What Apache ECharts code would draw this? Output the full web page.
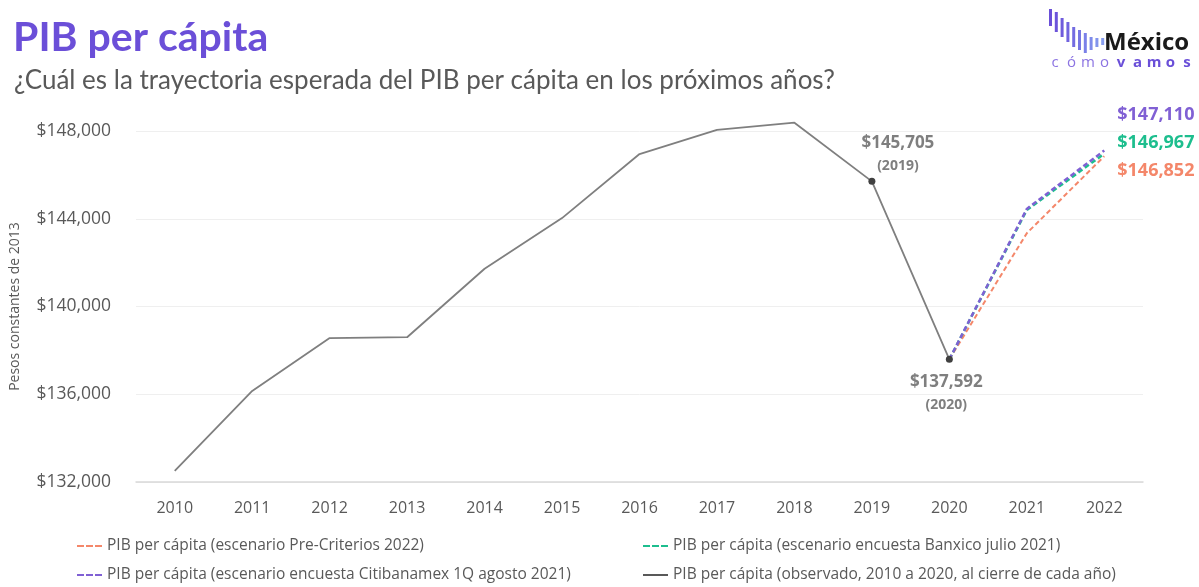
<!DOCTYPE html>
<html>
<head>
<meta charset="utf-8">
<script src="https://cdn.jsdelivr.net/npm/echarts@6/dist/echarts.min.js"></script>
<style>
  html, body { margin: 0; padding: 0; background: #fff; }
  #main { width: 1199px; height: 587px; }
</style>
</head>
<body>
<div id="main"></div>
<script>
// datos
var years = ['2010', '2011', '2012', '2013', '2014', '2015', '2016', '2017', '2018', '2019', '2020', '2021', '2022'];
var observado = [132506, 136150, 138560, 138600, 141720, 144030, 146950, 148050, 148380, 145705, 137592];
var preCriterios = [137592, 143340, 146852];
var banxico = [137592, 144400, 146967];
var citibanamex = [137592, 144450, 147110];
var yTicks = [132000, 136000, 140000, 144000, 148000];

var serieNames = [
  'PIB per cápita (escenario Pre-Criterios 2022)',
  'PIB per cápita (escenario encuesta Banxico julio 2021)',
  'PIB per cápita (escenario encuesta Citibanamex 1Q agosto 2021)',
  'PIB per cápita (observado, 2010 a 2020, al cierre de cada año)'
];
var colors = ['#F4876A', '#1DBE8E', '#8060D4', '#7F7F7F'];

function money(v) {
  return '$' + Math.round(v).toLocaleString('en-US');
}

// las proyecciones empiezan en 2020
function forecast(vals) {
  var pad = [];
  for (var i = 0; i < years.length - vals.length; i++) pad.push('-');
  return pad.concat(vals);
}

function endLabel(color, dy) {
  return {
    show: true, distance: 13, offset: [0, dy],
    formatter: function (p) { return money(p.value); },
    color: color, fontWeight: 'bold', fontSize: 18, fontFamily: 'Open Sans'
  };
}

var obsData = observado.map(function (v, i) {
  if (years[i] === '2019' || years[i] === '2020') {
    var top = years[i] === '2019';
    return {
      value: v, symbol: 'circle', symbolSize: 7,
      itemStyle: { color: '#404040' },
      label: {
        show: true, position: top ? 'top' : 'bottom',
        offset: top ? [26, 4] : [-3, 2],
        formatter: '{a|' + money(v) + '}\n{b|(' + years[i] + ')}',
        rich: {
          a: { fontSize: 17, fontWeight: 'bold', color: '#7F7F7F', fontFamily: 'Open Sans', lineHeight: 24, align: 'center' },
          b: { fontSize: 14, fontWeight: 'bold', color: '#7F7F7F', fontFamily: 'Open Sans', lineHeight: 22, align: 'center' }
        }
      }
    };
  }
  return { value: v, symbol: 'none' };
});

var myChart = echarts.init(document.getElementById('main'));

var dashIcon = 'path://M0,0h7v2h-7z M9,0h7v2h-7z M18,0h7v2h-7z';
var solidIcon = 'path://M0,0h25v2h-25z';
var legendText = { color: '#595959', fontSize: 15.5, fontFamily: 'Open Sans' };
var legends = [
  { left: 77, top: 538 },
  { left: 643, top: 538 },
  { left: 77, top: 567 },
  { left: 643, top: 567 }
].map(function (p, i) {
  return {
    data: [{ name: serieNames[i], icon: i === 3 ? solidIcon : dashIcon, itemStyle: { color: i === 3 ? '#595959' : colors[i] } }],
    left: p.left, top: p.top,
    itemWidth: 25, itemHeight: 2.5, itemGap: 0,
    textStyle: legendText, padding: 0
  };
});

// logo México cómo vamos
var barTops = [9, 12, 18, 22, 27, 30, 33, 37, 38, 38];
var barBottoms = [26, 32, 37, 42, 47, 50, 53, 50, 47, 45];
var barColors = ['#6A4FD8', '#6C54DA', '#6F5BDC', '#7163DF', '#736CE1', '#7675E4', '#7A80E8', '#7E8BEA', '#8294EC', '#879DEE'];
var logo = barTops.map(function (t, i) {
  return {
    type: 'rect',
    shape: { x: 1049 + i * 5.8, y: t, width: 3, height: barBottoms[i] - t },
    style: { fill: barColors[i] }
  };
});
logo.push({
  type: 'text', left: 1104, top: 31,
  style: { text: 'México', font: 'bold 24px "Open Sans"', fill: '#1A1A1A' }
});
var letters = ['c', 'ó', 'm', 'o', 'v', 'a', 'm', 'o', 's'];
letters.forEach(function (ch, i) {
  logo.push({
    type: 'text', x: 1055 + i * 16.5, y: 55,
    style: {
      text: ch, align: 'center',
      font: (i < 4 ? '' : 'bold ') + '15px "Open Sans"',
      fill: i < 4 ? '#8C74E2' : '#6A4FD8'
    }
  });
});

var option = {
  backgroundColor: '#ffffff',
  animation: false,
  color: colors,
  title: [
    {
      text: 'PIB per cápita', left: 8, top: 12,
      textStyle: { color: '#6B4FD8', fontSize: 41, fontWeight: 'bold', fontFamily: 'Lato' }
    },
    {
      text: '¿Cuál es la trayectoria esperada del PIB per cápita en los próximos años?',
      left: 9, top: 63,
      textStyle: { color: '#595959', fontSize: 26, fontWeight: 'normal', fontFamily: 'Lato' }
    }
  ],
  graphic: logo,
  legend: legends,
  grid: { left: 135, right: 56, top: 131, bottom: 105, containLabel: false },
  xAxis: {
    type: 'category', data: years, boundaryGap: true,
    axisLine: { lineStyle: { color: '#D9D9D9', width: 1.5 } },
    axisTick: { show: false },
    axisLabel: { color: '#595959', fontSize: 16, fontFamily: 'Open Sans', margin: 18 }
  },
  yAxis: {
    type: 'value', min: yTicks[0], max: yTicks[yTicks.length - 1], interval: 4000,
    name: 'Pesos constantes de 2013', nameLocation: 'middle', nameGap: 114,
    nameTextStyle: { color: '#595959', fontSize: 14, fontFamily: 'Open Sans' },
    axisLine: { show: false },
    axisTick: { show: false },
    splitLine: { lineStyle: { color: '#EFEFEF', width: 1 } },
    axisLabel: {
      color: '#595959', fontSize: 17.5, fontFamily: 'Open Sans', margin: 25,
      formatter: function (v) { return money(v); }
    }
  },
  series: [
    {
      name: serieNames[0], type: 'line', data: forecast(preCriterios),
      symbol: 'none', clip: false, endLabel: endLabel(colors[0], 15),
      lineStyle: { color: colors[0], width: 2, type: [5, 3] }
    },
    {
      name: serieNames[1], type: 'line', data: forecast(banxico),
      symbol: 'none', clip: false, endLabel: endLabel(colors[1], -11),
      lineStyle: { color: colors[1], width: 2.5, type: [5, 3] }
    },
    {
      name: serieNames[2], type: 'line', data: forecast(citibanamex),
      symbol: 'none', clip: false, endLabel: endLabel(colors[2], -36),
      lineStyle: { color: colors[2], width: 2.5, type: [5, 3] }
    },
    {
      name: serieNames[3], type: 'line', data: obsData,
      clip: false, showSymbol: true,
      itemStyle: { color: '#595959' },
      lineStyle: { color: colors[3], width: 1.8 }
    }
  ]
};

myChart.setOption(option);
</script>
</body>
</html>
